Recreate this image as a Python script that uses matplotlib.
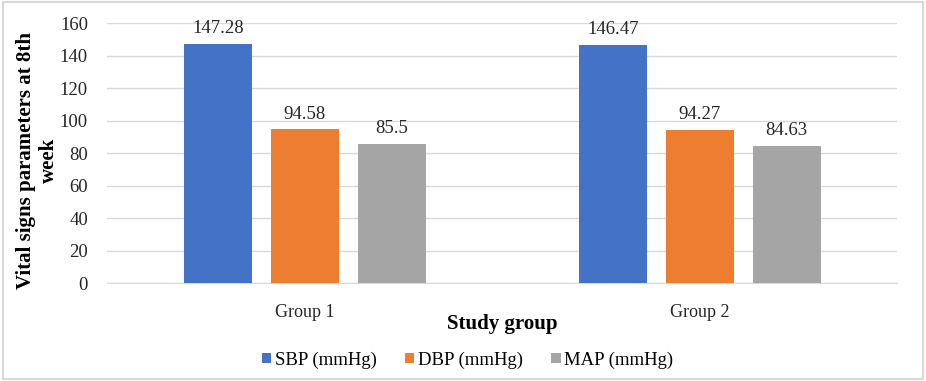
import numpy as np
import matplotlib.pyplot as plt
from matplotlib.patches import Rectangle

# Data
groups = ['Group 1', 'Group 2']
series = ['SBP (mmHg)', 'DBP (mmHg)', 'MAP (mmHg)']
sbp = [147.28, 146.47]
dbp = [94.58, 94.27]
map_vals = [85.5, 84.63]
value_labels = [['147.28', '146.47'], ['94.58', '94.27'], ['85.5', '84.63']]
colors = ['#4472C4', '#ED7D31', '#A5A5A5']

plt.rcParams['font.family'] = ['Liberation Serif', 'DejaVu Serif']

fig = plt.figure(figsize=(9.26, 3.81), dpi=100)
ax = fig.add_axes([0.116, 0.257, 0.853, 0.682])

x = np.arange(len(groups))
width = 0.172
offsets = [-0.22, 0, 0.22]
for vals, labels, off, col, name in zip([sbp, dbp, map_vals], value_labels, offsets, colors, series):
    bars = ax.bar(x + off, vals, width, color=col, label=name, zorder=3)
    for b, lab in zip(bars, labels):
        ax.annotate(lab, (b.get_x() + b.get_width() / 2, b.get_height()),
                    xytext=(0, 5), textcoords='offset points',
                    ha='center', va='bottom', fontsize=13.5, color='#262626')

ax.set_xlim(-0.5, 1.5)
ax.set_ylim(0, 160)
ax.set_yticks(np.arange(0, 161, 20))
ax.yaxis.grid(True, color='#D9D9D9', linewidth=1, zorder=0)
ax.set_xticks(x)
ax.set_xticklabels(groups, fontsize=13)
ax.tick_params(axis='both', length=0, colors='#262626')
ax.tick_params(axis='y', labelsize=13.5, pad=14)
ax.tick_params(axis='x', pad=15)
for s in ['top', 'right', 'left']:
    ax.spines[s].set_visible(False)
ax.spines['bottom'].set_color('#D9D9D9')

ax.set_xlabel('Study group', fontsize=15, fontweight='bold', labelpad=-5)
ax.set_ylabel('Vital signs parameters at 8th\nweek', fontsize=15, fontweight='bold',
              linespacing=1.15)
ax.yaxis.set_label_coords(-0.062, 0.473)

fig.legend(loc='center', bbox_to_anchor=(0.505, 0.055), ncol=3, frameon=False,
           fontsize=13.5, handlelength=0.5, handleheight=0.5, columnspacing=1.5,
           handletextpad=0.2)

fig.patches.append(Rectangle((0.003, 0.006), 0.994, 0.988, transform=fig.transFigure,
                             fill=False, edgecolor='#D9D9D9', linewidth=1.5))

fig.savefig('out.png', dpi=100)
